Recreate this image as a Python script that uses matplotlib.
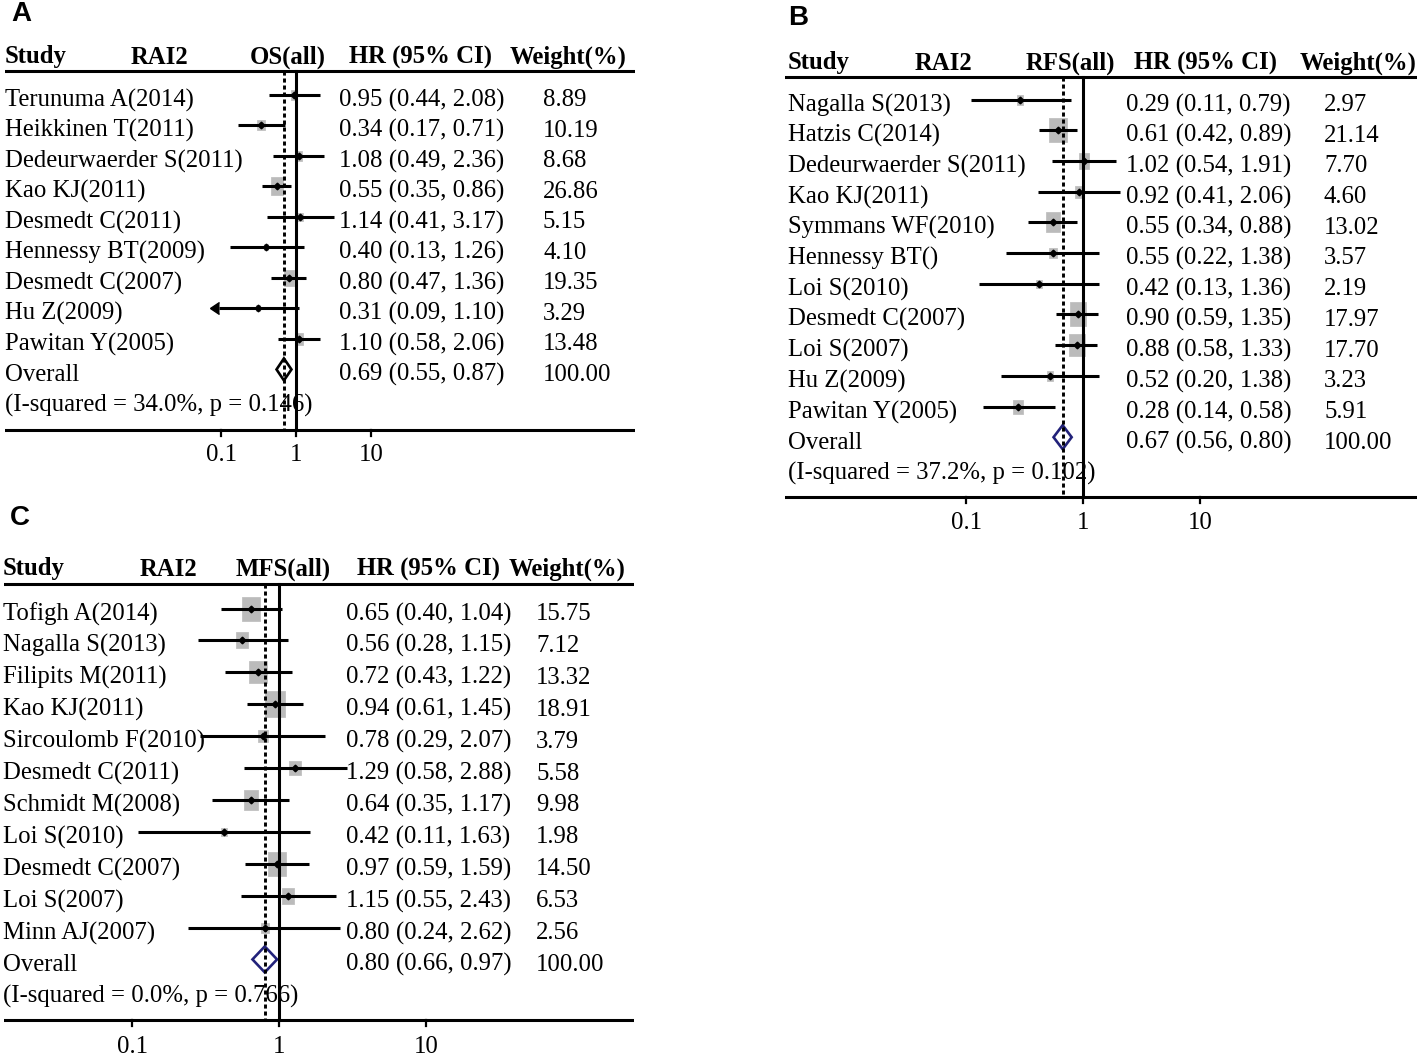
import numpy as np
import matplotlib
matplotlib.use("Agg")
import matplotlib.pyplot as plt
from matplotlib import transforms
from matplotlib.path import Path

W, H = 1417, 1056
SERIF = "Liberation Serif"
FS = 17.8

# ---- panel A: OS
studies_a = ["Terunuma A(2014)", "Heikkinen T(2011)", "Dedeurwaerder S(2011)", "Kao KJ(2011)",
             "Desmedt C(2011)", "Hennessy BT(2009)", "Desmedt C(2007)", "Hu Z(2009)", "Pawitan Y(2005)"]
hr_a = [0.95, 0.34, 1.08, 0.55, 1.14, 0.40, 0.80, 0.31, 1.10]
lo_a = [0.44, 0.17, 0.49, 0.35, 0.41, 0.13, 0.47, 0.09, 0.58]
hi_a = [2.08, 0.71, 2.36, 0.86, 3.17, 1.26, 1.36, 1.10, 2.06]
w_a = [8.89, 10.19, 8.68, 26.86, 5.15, 4.10, 19.35, 3.29, 13.48]
overall_a = (0.69, 0.55, 0.87)
het_a = "(I-squared = 34.0%, p = 0.146)"

# ---- panel B: RFS
studies_b = ["Nagalla S(2013)", "Hatzis C(2014)", "Dedeurwaerder S(2011)", "Kao KJ(2011)",
             "Symmans WF(2010)", "Hennessy BT()", "Loi S(2010)", "Desmedt C(2007)", "Loi S(2007)",
             "Hu Z(2009)", "Pawitan Y(2005)"]
hr_b = [0.29, 0.61, 1.02, 0.92, 0.55, 0.55, 0.42, 0.90, 0.88, 0.52, 0.28]
lo_b = [0.11, 0.42, 0.54, 0.41, 0.34, 0.22, 0.13, 0.59, 0.58, 0.20, 0.14]
hi_b = [0.79, 0.89, 1.91, 2.06, 0.88, 1.38, 1.36, 1.35, 1.33, 1.38, 0.58]
w_b = [2.97, 21.14, 7.70, 4.60, 13.02, 3.57, 2.19, 17.97, 17.70, 3.23, 5.91]
overall_b = (0.67, 0.56, 0.80)
het_b = "(I-squared = 37.2%, p = 0.102)"

# ---- panel C: MFS
studies_c = ["Tofigh A(2014)", "Nagalla S(2013)", "Filipits M(2011)", "Kao KJ(2011)",
             "Sircoulomb F(2010)", "Desmedt C(2011)", "Schmidt M(2008)", "Loi S(2010)",
             "Desmedt C(2007)", "Loi S(2007)", "Minn AJ(2007)"]
hr_c = [0.65, 0.56, 0.72, 0.94, 0.78, 1.29, 0.64, 0.42, 0.97, 1.15, 0.80]
lo_c = [0.40, 0.28, 0.43, 0.61, 0.29, 0.58, 0.35, 0.11, 0.59, 0.55, 0.24]
hi_c = [1.04, 1.15, 1.22, 1.45, 2.07, 2.88, 1.17, 1.63, 1.59, 2.43, 2.62]
w_c = [15.75, 7.12, 13.32, 18.91, 3.79, 5.58, 9.98, 1.98, 14.50, 6.53, 2.56]
overall_c = (0.80, 0.66, 0.97)
het_c = "(I-squared = 0.0%, p = 0.766)"

ticks = [0.1, 1, 10]
tick_labels = ["0.1", "1", "10"]
headers_a = ["Study", "RAI2", "OS(all)", "HR (95% CI)", "Weight(%)"]
headers_b = ["Study", "RAI2", "RFS(all)", "HR (95% CI)", "Weight(%)"]
headers_c = ["Study", "RAI2", "MFS(all)", "HR (95% CI)", "Weight(%)"]

fig = plt.figure(figsize=(W / 100, H / 100), dpi=100)

TXT_DY = 2.0    # text anchor a bit lower than the visual row centre
MARK_DY = -3.5  # bars sit slightly above the text centre in the original


def forest(letter, studies, hr, lo, hi, w, overall, het, headers, g):
    x0, x1 = g["x0"], g["x1"]
    top, bot = g["top"], g["bot"]
    ax = fig.add_axes([x0 / W, 1 - bot / H, (x1 - x0) / W, (bot - top) / H])
    ax.set_xscale("log")
    ax.set_xlim(10 ** ((x0 - g["one"]) / g["dec"]), 10 ** ((x1 - g["one"]) / g["dec"]))
    ax.set_ylim(bot, top)
    ax.axis("off")
    px = transforms.blended_transform_factory(
        transforms.Affine2D().scale(1 / W, 1) + fig.transFigure, ax.transData)

    fig.text(g["lx"] / W, 1 - g["ly"] / H, letter, fontsize=20, fontweight="bold",
             family="Liberation Sans", va="top", ha="left")

    # header
    for txt, hx in zip(headers, g["hx"]):
        ax.text(hx, g["head"] + TXT_DY, txt, transform=px, fontsize=FS, fontweight="bold",
                family=SERIF, va="center", ha="left")
    ax.axhline(g["hline"], color="black", lw=2.2, zorder=5)
    ax.axhline(g["bline"], color="black", lw=2.2, zorder=5)

    n = len(studies)
    ys = g["row0"] + g["step"] * np.arange(n + 2)
    xmin = ticks[0]
    asp = g["asp"]
    box = Path([(-0.5 / asp, -0.5), (0.5 / asp, -0.5), (0.5 / asp, 0.5),
                (-0.5 / asp, 0.5), (-0.5 / asp, -0.5)], closed=True)
    for i in range(n):
        yt = ys[i] + TXT_DY
        y = ys[i] + MARK_DY
        ax.text(g["sx"], yt, studies[i], transform=px, fontsize=FS, family=SERIF,
                va="center", ha="left", zorder=1)
        ax.text(g["vx"], yt, f"{hr[i]:.2f} ({lo[i]:.2f}, {hi[i]:.2f})", transform=px,
                fontsize=FS, family=SERIF, va="center", ha="left", zorder=1)
        ax.text(g["wx"], yt, f"{w[i]:.2f}", transform=px, fontsize=FS, family=SERIF,
                va="center", ha="left", zorder=1)
        left = max(lo[i], xmin * 0.95)
        ax.plot([left, hi[i]], [y, y], color="black", lw=2.2, solid_capstyle="butt", zorder=4)
        if lo[i] < xmin:
            ax.plot([left], [y], marker=8, color="black", ms=9, zorder=4)
        # weight box (area ~ weight)
        side = g["box"] * np.sqrt(w[i]) * 0.72 * 1.15
        ax.scatter([hr[i]], [y], marker=box, s=(side * asp) ** 2, color="#bbbbbb",
                   edgecolors="#bbbbbb", linewidths=0.5, zorder=2)
        ax.plot([hr[i]], [y], marker="D", color="black", ms=3.4, zorder=6)

    # overall diamond
    yo = ys[n] + MARK_DY
    oh, ol, ou = overall
    dh = g["dia"] / 2
    ax.fill([ol, oh, ou, oh, ol], [yo, yo - dh, yo, yo + dh, yo], facecolor="white",
            edgecolor=g["dcol"], lw=1.9, zorder=3)
    yt = ys[n] + TXT_DY
    ax.text(g["sx"], yt, "Overall", transform=px, fontsize=FS, family=SERIF,
            va="center", ha="left", zorder=1)
    ax.text(g["vx"], yt, f"{oh:.2f} ({ol:.2f}, {ou:.2f})", transform=px, fontsize=FS,
            family=SERIF, va="center", ha="left", zorder=1)
    ax.text(g["wx"], yt, "100.00", transform=px, fontsize=FS, family=SERIF,
            va="center", ha="left", zorder=1)
    ax.text(g["sx"], ys[n + 1] + TXT_DY, het, transform=px, fontsize=FS, family=SERIF,
            va="center", ha="left", zorder=1)

    # reference lines
    ax.plot([1, 1], [g["hline"], g["bline"]], color="black", lw=2.2, zorder=5)
    ax.plot([oh, oh], [g["hline"], g["bline"]], color="black", lw=2.1,
            linestyle=(0, (1.4, 1.0)), zorder=7)

    # axis ticks
    for t, tl in zip(ticks, tick_labels):
        ax.plot([t, t], [g["bline"], g["bline"] + 6], color="black", lw=1.6, zorder=5)
        ax.text(t, g["tick"] + TXT_DY, tl, fontsize=FS, family=SERIF, va="center", ha="center")


geo_a = dict(x0=5, x1=635, top=40, bot=470, one=296, dec=75, lx=11, ly=1,
             hx=[5, 131, 250, 349, 510], head=55, hline=71, bline=430, tick=453,
             row0=98, step=30.55, sx=5, vx=339, wx=543, box=1.93, asp=1.55,
             dia=22, dcol="black")
geo_b = dict(x0=785, x1=1417, top=40, bot=540, one=1083, dec=117, lx=788, ly=5,
             hx=[788, 915, 1026, 1134, 1300], head=61, hline=77, bline=497, tick=521,
             row0=103, step=30.7, sx=788, vx=1126, wx=1324, box=3.26, asp=1.45,
             dia=24, dcol="#22227a")
geo_c = dict(x0=4, x1=634, top=560, bot=1056, one=279, dec=147, lx=10, ly=505,
             hx=[3, 140, 236, 357, 509], head=567, hline=584, bline=1020, tick=1045,
             row0=612, step=31.9, sx=3, vx=346, wx=536, box=4.1, asp=1.3,
             dia=26, dcol="#22227a")

forest("A", studies_a, hr_a, lo_a, hi_a, w_a, overall_a, het_a, headers_a, geo_a)
forest("B", studies_b, hr_b, lo_b, hi_b, w_b, overall_b, het_b, headers_b, geo_b)
forest("C", studies_c, hr_c, lo_c, hi_c, w_c, overall_c, het_c, headers_c, geo_c)

fig.savefig("out.png", dpi=100)
